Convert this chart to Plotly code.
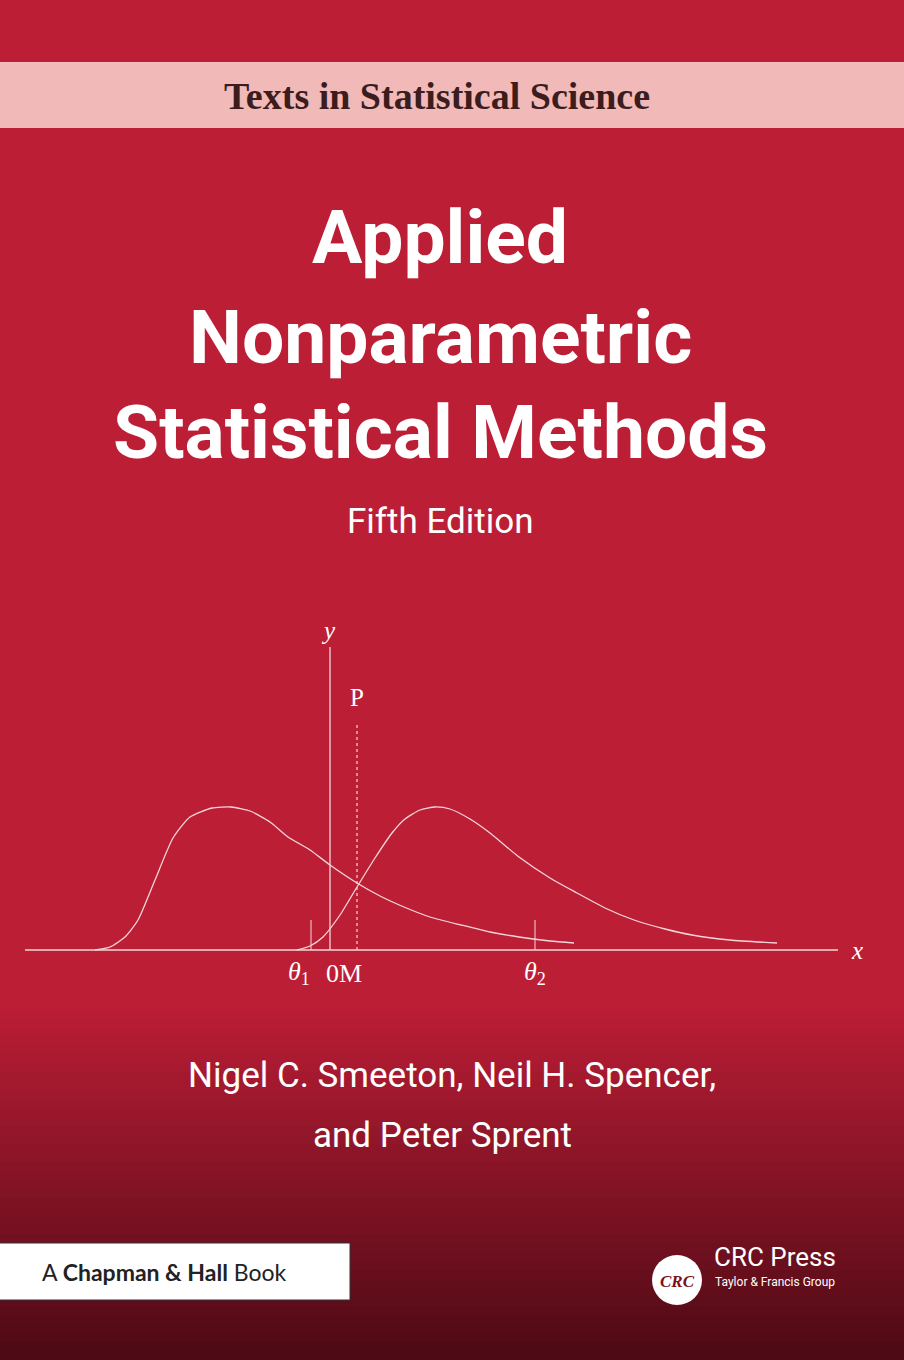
import plotly.graph_objects as go
import numpy as np

# Chart data (units relative to origin of plot; x right, y up)
left_x = [-235, -220, -205, -192, -175, -157, -140, -118, -99, -80, -60, -42, -20, 0, 27, 50, 74, 100, 131, 160, 189, 220, 244]
left_y = [0, 3, 13, 30, 70, 112, 133, 142, 143, 139, 128, 113, 100, 85, 67, 54, 43, 33, 25, 18, 13, 9, 7]
right_x = [-33, -20, -7, 10, 27, 45, 62, 75, 90, 105, 120, 140, 160, 189, 220, 247, 275, 304, 335, 362, 400, 447]
right_y = [0, 4, 13, 35, 63, 92, 117, 131, 140, 143, 141, 131, 117, 93, 72, 57, 42, 30, 21, 15, 10, 7]
tick_labels = ["θ₁", "0M", "θ₂"]
theta1_x, theta2_x, p_x = -19, 205, 27

W, H = 904, 1360
OX, OY = 330, 950

fig = go.Figure()
shapes = []
top = np.array([0xbc, 0x1e, 0x36]); bot = np.array([0x4e, 0x0a, 0x15])
shapes.append(dict(type="rect", x0=0, x1=W, y0=0, y1=1000, fillcolor="#bc1e36", line_width=0, layer="below"))
n = 40
for i in range(n):
    t = i / (n - 1)
    c = top + (bot - top) * t
    y0 = 1000 + i * 360 / n
    shapes.append(dict(type="rect", x0=0, x1=W, y0=y0, y1=y0 + 360 / n + 1,
                       fillcolor="rgb(%d,%d,%d)" % tuple(c), line_width=0, layer="below"))
shapes.append(dict(type="rect", x0=0, x1=W, y0=62, y1=128, fillcolor="#f2b9b9", line_width=0, layer="below"))
shapes.append(dict(type="rect", x0=-2, x1=350, y0=1243, y1=1300, fillcolor="white", line=dict(color="#333", width=1), layer="below"))
shapes.append(dict(type="circle", x0=652, x1=702, y0=1255, y1=1305, fillcolor="white", line_width=0, layer="below"))
wl = dict(color="#f3d6d8", width=1.3)
shapes.append(dict(type="line", x0=25, x1=838, y0=OY, y1=OY, line=wl))
shapes.append(dict(type="line", x0=OX, x1=OX, y0=647, y1=OY, line=wl))
shapes.append(dict(type="line", x0=OX + p_x, x1=OX + p_x, y0=725, y1=OY, line=dict(color="#f3d6d8", width=1.2, dash="dot")))
for tx in (theta1_x, theta2_x):
    shapes.append(dict(type="line", x0=OX + tx, x1=OX + tx, y0=920, y1=OY, line=dict(color="#f3d6d8", width=1)))

for xs, ys in ((left_x, left_y), (right_x, right_y)):
    fig.add_trace(go.Scatter(x=[OX + v for v in xs], y=[OY - v for v in ys], mode="lines",
                             line=dict(color="#f3d6d8", width=1.3, shape="spline", smoothing=0.6), hoverinfo="skip"))

ann = []
def T(x, y, s, size, color="white", family="Roboto", xanchor="center"):
    ann.append(dict(x=x, y=y, text=s, showarrow=False, font=dict(size=size, color=color, family=family), xanchor=xanchor, yanchor="middle"))

T(437, 96, "<b>Texts in Statistical Science</b>", 38, "#3b1d1d", "Liberation Serif")
T(440, 237, "<b>Applied</b>", 75)
T(440, 337, "<b>Nonparametric</b>", 75)
T(440, 432, "<b>Statistical Methods</b>", 75)
T(440, 521, "Fifth Edition", 35)
serif = "Liberation Serif"
T(328, 630, "<i>y</i>", 25, family=serif)
T(857, 950, "<i>x</i>", 25, family=serif)
T(357, 697, "P", 25, family=serif)
T(OX + theta1_x - 12, 973, "<i>θ</i><sub>1</sub>", 26, family=serif)
T(OX + 14, 973, tick_labels[1], 26, family=serif)
T(OX + theta2_x, 973, "<i>θ</i><sub>2</sub>", 26, family=serif)
T(452, 1075, "Nigel C. Smeeton, Neil H. Spencer,", 35)
T(442, 1135, "and Peter Sprent", 35)
T(40, 1272, "A <b>Chapman &amp; Hall</b> Book", 23, "#222", "Lato", "left")
T(677, 1281, "<i><b>CRC</b></i>", 17, "#7a1020", serif)
T(712, 1257, "CRC Press", 26, "white", "Roboto", "left")
T(713, 1282, "Taylor &amp; Francis Group", 12, "white", "Roboto", "left")

fig.update_layout(width=W, height=H, margin=dict(l=0, r=0, t=0, b=0), showlegend=False,
                  paper_bgcolor="#bc1e36", plot_bgcolor="rgba(0,0,0,0)",
                  xaxis=dict(range=[0, W], visible=False, fixedrange=True),
                  yaxis=dict(range=[H, 0], visible=False, fixedrange=True),
                  shapes=shapes, annotations=ann)
fig.write_html("out.html", config={"displayModeBar": False},
               post_script="document.body.style.margin='0';document.body.style.background='#4e0a15';")
